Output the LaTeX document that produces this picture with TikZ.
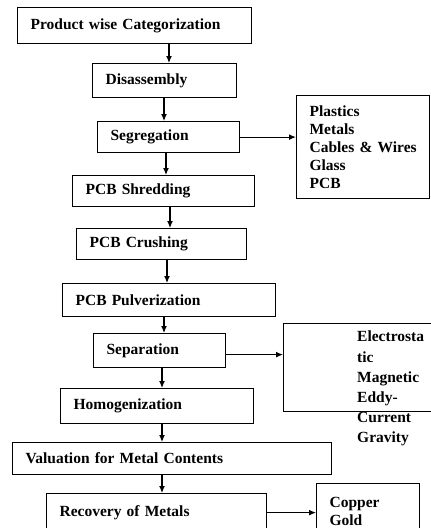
\documentclass[tikz,border=0pt]{standalone}
\usepackage{fontspec}
\setmainfont{Liberation Serif}
\usetikzlibrary{arrows.meta}
\tikzset{
	boxfont/.style={
		font={\bfseries\fontsize{15.5}{18}\selectfont}
	},
	stage/.append style={
		draw,
		line width=1.2pt,
		anchor=north west,
		align=left,
		inner xsep=13pt,
		inner ysep=0pt,
		boxfont,
	},
	flow/.append style={
		line width=1.2pt,
		-{Latex[length=7pt,width=6pt]},
	},
}
\begin{document}
\begin{tikzpicture}[x=1pt, y=-1pt]
\useasboundingbox (0,0) rectangle (431,528);
\clip (0,0) rectangle (431,528);

% main chain
\node(b1)[stage, text width=208pt, minimum height=36pt] at (17,7) {Product wise Categorization};
\node(b2)[stage, text width=118pt, minimum height=34pt] at (92,63) {Disassembly};
\node(b3)[stage, text width=116pt, minimum height=31pt] at (97,121) {Segregation};
\node(b4)[stage, text width=156pt, minimum height=31pt] at (72,175) {PCB Shredding};
\node(b5)[stage, text width=144pt, minimum height=31pt] at (76,228) {PCB Crushing};
\node(b6)[stage, text width=187pt, minimum height=33pt] at (62,283) {PCB Pulverization};
\node(b7)[stage, text width=106pt, minimum height=34pt] at (93,333) {Separation};
\node(b8)[stage, text width=167pt, minimum height=35pt] at (60,388) {Homogenization};
\node(b9)[stage, text width=293pt, minimum height=32pt] at (12,442) {Valuation for Metal Contents};
\node(b10)[stage, text width=194pt, minimum height=38pt] at (46,493) {Recovery of Metals};

\foreach \a/\b/\x in {b1/b2/169, b2/b3/164, b3/b4/166, b4/b5/170, b5/b6/167,
                      b6/b7/164, b7/b8/162, b8/b9/162, b9/b10/162} {
	\draw[flow] (\a.south -| \x,0) -- (\b.north -| \x,0);
};

% outputs
\node(r1)[stage, text width=107pt, minimum height=103pt] at (296,95)
	{Plastics\\Metals\\\mbox{Cables \& Wires}\\Glass\\PCB};
\node(r2)[stage, minimum width=160pt, minimum height=88pt] at (283,323) {};
\node(r2txt)[anchor=north west, align=left, inner sep=0pt,
	font={\bfseries\fontsize{15.5}{20.2}\selectfont}] at (357,331)
	{Electrosta\\tic\\Magnetic\\Eddy-\\Current\\Gravity};
\node(r3)[stage, text width=77pt, minimum height=56pt,
	font={\bfseries\fontsize{15.5}{17.5}\selectfont}] at (316,483) {Copper\\Gold};

\draw[flow] (b3.east) -- (b3.east -| r1.west);
\draw[flow] ([yshift=-4pt]b7.east) -- ([yshift=-4pt]b7.east -| r2.west);
\draw[flow] (b10.east) -- (b10.east -| r3.west);
\end{tikzpicture}
\end{document}
